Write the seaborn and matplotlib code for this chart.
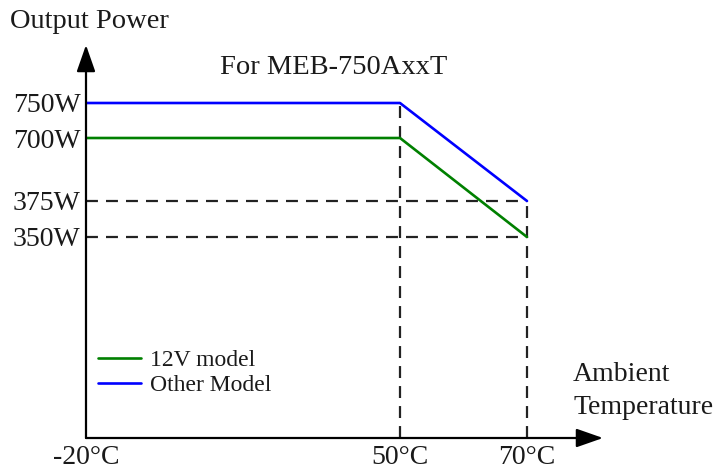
import numpy as np
import pandas as pd
import seaborn as sns
import matplotlib.pyplot as plt

# derating curve data
temps = [-20, 50, 70]
power_12v = [700, 700, 350]
power_other = [750, 750, 375]
series_names = ['12V model', 'Other Model']
series_colors = ['#008000', '#0000ff']
y_ticks = [750, 700, 375, 350]
y_labels = ['750W', '700W', '375W', '350W']
x_ticks = [-20, 50, 70]
x_labels = ['-20°C', '50°C', '70°C']

# the drawing is schematic, so both axes use piecewise scales
t_anchor = [-20, 50, 70, 82]
t_pos = [0, 314, 441, 517]
p_anchor = [0, 350, 375, 700, 750, 833]
p_pos = [0, 201, 237, 300, 335, 393]

df = pd.DataFrame({
    'temp': temps * 2,
    'power': power_12v + power_other,
    'model': [series_names[0]] * 3 + [series_names[1]] * 3,
})

sns.set_style('white')
plt.rcParams['font.family'] = ['Liberation Serif', 'DejaVu Serif']
plt.rcParams['lines.scale_dashes'] = False
plt.rcParams['text.color'] = '#1a1a1a'

fig = plt.figure(figsize=(7.2, 4.73), dpi=100)
ax = fig.add_axes([86 / 720, 35 / 473, 517 / 720, 393 / 473])
ax.set_xscale('function', functions=(lambda t: np.interp(t, t_anchor, t_pos),
                                     lambda p: np.interp(p, t_pos, t_anchor)))
ax.set_yscale('function', functions=(lambda v: np.interp(v, p_anchor, p_pos),
                                     lambda p: np.interp(p, p_pos, p_anchor)))
ax.set_xlim(t_anchor[0], t_anchor[-1])
ax.set_ylim(p_anchor[0], p_anchor[-1])

# dashed guide lines
guide = dict(colors='#222222', linewidth=1.6, linestyles=(0, (8.6, 5.8)), zorder=1)
ax.hlines([power_other[2], power_12v[2]], temps[0], temps[2], **guide)
ax.vlines(temps[1], 0, power_other[1], **guide)
ax.vlines(temps[2], 0, power_other[2], **guide)

sns.lineplot(data=df, x='temp', y='power', hue='model', palette=series_colors,
             linewidth=1.9, ax=ax, zorder=3)

for s in ax.spines.values():
    s.set_visible(False)

# axes with arrowheads
arrow = dict(arrowstyle='-|>,head_length=0.4,head_width=0.14', color='black',
             lw=1.6, mutation_scale=41, shrinkA=0, shrinkB=0)
ax.annotate('', xy=(1, 0), xytext=(0, 0), xycoords='axes fraction', arrowprops=arrow)
ax.annotate('', xy=(0, 1), xytext=(0, 0), xycoords='axes fraction', arrowprops=arrow)

ax.set_xticks(x_ticks)
ax.set_xticklabels(x_labels)
ax.set_yticks(y_ticks)
ax.set_yticklabels(y_labels)
ax.tick_params(axis='both', length=0, labelsize=20, labelcolor='#1a1a1a')
ax.tick_params(axis='y', pad=4)
ax.tick_params(axis='x', pad=5)
ax.set_xlabel('')
ax.set_ylabel('')

ax.legend(loc='center left', bbox_to_anchor=(98 / 720, 1 - 373 / 473),
          bbox_transform=fig.transFigure, frameon=False, fontsize=17,
          handlelength=1.8, handletextpad=0.4, labelspacing=0.15,
          borderpad=0, borderaxespad=0)

fig.text(10 / 720, 1 - 22 / 473, 'Output Power', fontsize=20.5, va='center', ha='left')
fig.text(334 / 720, 1 - 68 / 473, 'For MEB-750AxxT', fontsize=20.5, va='center', ha='center')
fig.text(573 / 720, 1 - 391 / 473, 'Ambient\nTemperature', fontsize=20, va='center',
         ha='left', linespacing=1.4)

fig.savefig('out.png', dpi=100)
